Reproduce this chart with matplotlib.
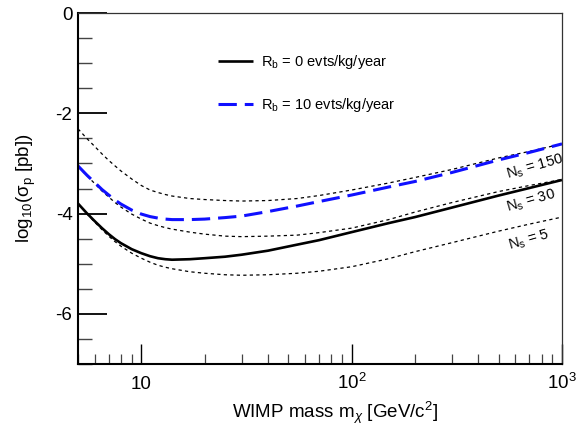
import matplotlib
matplotlib.use("Agg")
import matplotlib.pyplot as plt
from matplotlib.ticker import LogLocator, MultipleLocator, NullFormatter

plt.rcParams['font.family'] = ['Liberation Sans', 'DejaVu Sans']
plt.rcParams['mathtext.fontset'] = 'custom'
plt.rcParams['mathtext.rm'] = 'Liberation Sans'
plt.rcParams['mathtext.it'] = 'Liberation Sans:italic'
plt.rcParams['mathtext.bf'] = 'Liberation Sans:bold'

# --- data (x = WIMP mass in GeV/c^2, y = log10 sigma_p) ---
mass = [5, 5.5, 6, 6.5, 7, 7.5, 8, 9, 10, 11, 12, 13, 14, 17, 20, 25, 30, 40, 55, 70,
        100, 150, 200, 300, 500, 700, 1000]

rb0 = [-3.80, -3.99, -4.15, -4.29, -4.41, -4.51, -4.59, -4.71, -4.79, -4.85, -4.89, -4.91,
       -4.92, -4.91, -4.89, -4.86, -4.82, -4.74, -4.62, -4.53,
       -4.37, -4.19, -4.07, -3.88, -3.64, -3.49, -3.33]
rb10 = [-3.05, -3.23, -3.38, -3.52, -3.63, -3.73, -3.81, -3.93, -4.01, -4.06, -4.09, -4.11,
        -4.12, -4.12, -4.11, -4.08, -4.05, -3.96, -3.85, -3.76,
        -3.63, -3.47, -3.36, -3.18, -2.93, -2.78, -2.61]
ns150 = [-2.31, -2.50, -2.66, -2.81, -2.94, -3.05, -3.15, -3.31, -3.44, -3.53, -3.58, -3.62,
         -3.65, -3.70, -3.72, -3.74, -3.75, -3.74, -3.70, -3.64,
         -3.53, -3.39, -3.28, -3.12, -2.89, -2.76, -2.61]
ns30 = [-3.06, -3.24, -3.40, -3.55, -3.67, -3.78, -3.87, -4.01, -4.11, -4.19, -4.24, -4.28,
        -4.31, -4.37, -4.41, -4.45, -4.46, -4.45, -4.43, -4.38,
        -4.29, -4.12, -3.97, -3.78, -3.56, -3.44, -3.32]
ns5 = [-3.80, -4.00, -4.17, -4.32, -4.45, -4.56, -4.65, -4.79, -4.89, -4.97, -5.03, -5.07,
       -5.10, -5.16, -5.19, -5.22, -5.23, -5.22, -5.19, -5.15,
       -5.06, -4.90, -4.76, -4.58, -4.35, -4.21, -4.07]

ns_labels = ["N$_{\\mathrm{s}}$ = 150", "N$_{\\mathrm{s}}$ = 30", "N$_{\\mathrm{s}}$ = 5"]
ns_label_pos = [(742, -3.07), (716, -3.76), (696, -4.53)]

xtick_vals = [10, 100, 1000]
xtick_labels = ["10", "10$^{2}$", "10$^{3}$"]
ytick_vals = [0, -2, -4, -6]
ytick_labels = ["0", "-2", "-4", "-6"]

fig = plt.figure(figsize=(5.87, 4.25), dpi=100)
ax = fig.add_axes([0.1329, 0.1435, 0.8245, 0.8259])

dotted = (0, (2.6, 2.6))
for ys in (ns150, ns30, ns5):
    ax.plot(mass, ys, color='black', lw=0.9, linestyle=dotted)
l0, = ax.plot(mass, rb0, color='black', lw=1.9, solid_capstyle='butt')
l10, = ax.plot(mass, rb10, color='#1010ff', lw=2.2, linestyle=(0, (6, 2.6)))

for txt, (xp, yp) in zip(ns_labels, ns_label_pos):
    ax.text(xp, yp, txt, fontsize=10.5, rotation=16, ha='center', va='center')

ax.legend([l0, l10], ["R$_{\\mathrm{b}}$ = 0 evts/kg/year", "R$_{\\mathrm{b}}$ = 10 evts/kg/year"],
          loc='upper left', bbox_to_anchor=(0.289, 0.886), frameon=False,
          borderpad=0, borderaxespad=0, handlelength=2.4, handletextpad=0.55,
          labelspacing=1.7, fontsize=10.5)

ax.set_xscale('log')
ax.set_xlim(5, 1000)
ax.set_ylim(-7, 0)

ax.set_xticks(xtick_vals, labels=xtick_labels)
ax.xaxis.set_minor_locator(LogLocator(base=10, subs=range(2, 10)))
ax.xaxis.set_minor_formatter(NullFormatter())
ax.set_yticks(ytick_vals, labels=ytick_labels)
ax.yaxis.set_minor_locator(MultipleLocator(0.5))

ax.tick_params(axis='both', which='both', direction='in', top=False, right=False,
               labelsize=13.5)
ax.tick_params(axis='y', which='major', length=21, width=1.3, pad=4)
ax.tick_params(axis='y', which='minor', length=10, width=1.0, color='#444444')
ax.tick_params(axis='x', which='major', length=14.5, width=1.0, pad=18)
ax.tick_params(axis='x', which='minor', length=7.3, width=0.9, color='#444444')
for t in ax.xaxis.get_major_ticks():
    t.label1.set_verticalalignment('baseline')

for side in ('left', 'bottom'):
    ax.spines[side].set_linewidth(1.5)
for side in ('top', 'right'):
    ax.spines[side].set_linewidth(0.9)
    ax.spines[side].set_color('#333333')

ax.set_xlabel("WIMP mass m$_{\\chi}$ [GeV/c$^{2}$]", fontsize=13.5)
ax.xaxis.set_label_coords(0.531, -0.102)
ax.set_ylabel("log$_{10}$(σ$_{\\mathrm{p}}$ [pb])", fontsize=13.5)
ax.yaxis.set_label_coords(-0.083, 0.5)

fig.savefig("out.png", dpi=100)
